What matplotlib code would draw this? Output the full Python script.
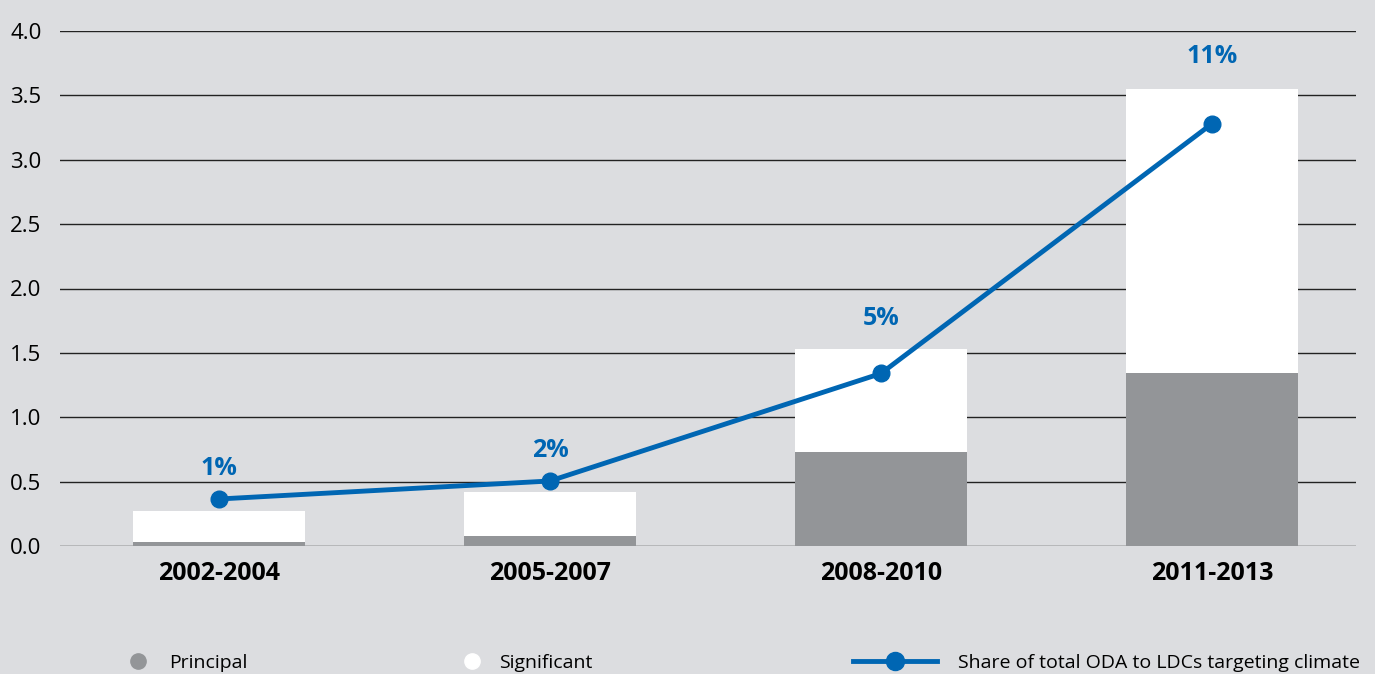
import numpy as np
import matplotlib.pyplot as plt
from matplotlib.lines import Line2D

periods = ["2002-2004", "2005-2007", "2008-2010", "2011-2013"]
principal = [0.03, 0.08, 0.73, 1.34]
significant = [0.24, 0.34, 0.80, 2.21]
share_val = [0.365, 0.505, 1.34, 3.28]
share_lbl = ["1%", "2%", "5%", "11%"]
lbl_offset = [31, 30, 55, 67]  # px above the point

bg = "#dcdde0"
grey = "#939598"
blue = "#0066b3"
plt.rcParams['font.family'] = ['Open Sans', 'DejaVu Sans']

fig = plt.figure(figsize=(13.75, 6.74), dpi=100, facecolor=bg)
ax = fig.add_axes([60/1375, 1-546/674, (1356-60)/1375, (546-31)/674])
ax.set_facecolor(bg)

x = np.arange(len(periods))
for yv in np.arange(0, 4.01, 0.5):
    ax.axhline(yv, color="#222222", lw=1.0, zorder=1)
ax.bar(x, principal, width=0.52, color=grey, zorder=2)
ax.bar(x, significant, width=0.52, bottom=principal, color="white", zorder=2)
ax.plot(x, share_val, color=blue, lw=3.5, marker="o", ms=12, zorder=3)
for xi, yi, t, off in zip(x, share_val, share_lbl, lbl_offset):
    ax.annotate(t, (xi, yi), xytext=(0, off * 0.72), textcoords="offset points",
                ha="center", va="center", color=blue, fontsize=18, fontweight="bold")

ax.set_xlim(-0.48, 3.435)
ax.set_ylim(0, 4.0)
ax.set_yticks(np.arange(0, 4.01, 0.5))
ax.set_yticklabels([f"{v:.1f}" for v in np.arange(0, 4.01, 0.5)], fontsize=16, ha="left")
ax.tick_params(axis="y", length=0, pad=36)
ax.set_xticks(x)
ax.set_xticklabels(periods, fontsize=18, fontweight="bold")
ax.tick_params(axis="x", length=0, pad=11)
for s in ax.spines.values():
    s.set_visible(False)

h1 = [Line2D([], [], ls="none", marker="o", ms=11, color=grey)]
h2 = [Line2D([], [], ls="none", marker="o", ms=11, color="white")]
h3 = [Line2D([], [], color=blue, lw=3.5, marker="o", ms=13)]
for h, lab, xpos, hl, tp in [(h1, "Principal", 128/1375, 1.0, 1.1),
                             (h2, "Significant", 462/1375, 1.0, 0.9),
                             (h3, "Share of total ODA to LDCs targeting climate", 853/1375, 4.3, 1.1)]:
    lg = fig.legend(h, [lab], loc="center left", bbox_to_anchor=(xpos, 1-663/674),
                    frameon=False, fontsize=14, handlelength=hl, handletextpad=tp,
                    borderpad=0, borderaxespad=0)

fig.savefig("out.png", dpi=100, facecolor=bg)
